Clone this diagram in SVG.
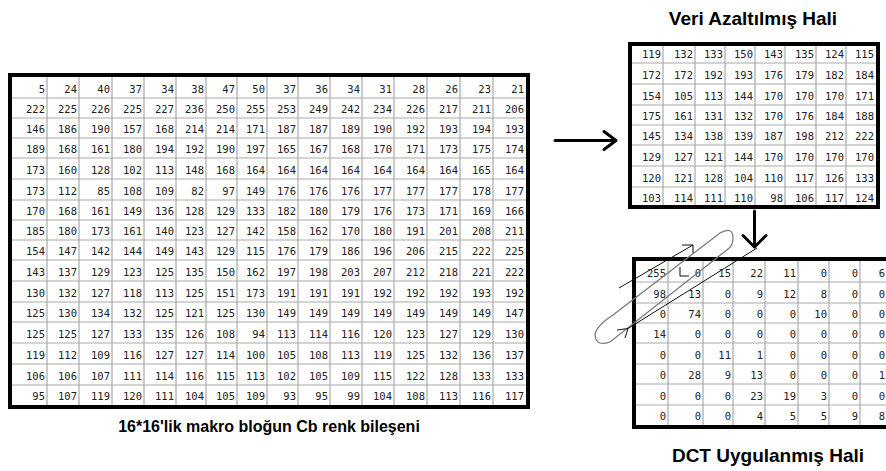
<svg xmlns="http://www.w3.org/2000/svg" width="886" height="471" viewBox="0 0 886 471">
  <style>
    .bg { fill: #ffffff; }
    .grid { fill: none; stroke: #a9a9a9; stroke-width: 1.2; }
    .frame { fill: none; stroke: #000000; stroke-width: 4; }
    .num { font-family: "DejaVu Sans Mono", "Liberation Mono", monospace; font-size: 10.5px; fill: #222222; text-anchor: end; }
    .cap { font-family: "Liberation Sans", Arial, sans-serif; font-weight: bold; fill: #000000; text-anchor: middle; }
    .arrow { fill: none; stroke: #000000; stroke-width: 3; stroke-linecap: round; stroke-linejoin: round; }
    .scan { fill: none; stroke: #111111; stroke-width: 1; }
    .loop { fill: none; stroke: #7a7a7a; stroke-width: 1.3; }
  </style>

  <rect class="bg" x="0" y="0" width="886" height="471"/>

  <!-- 16x16 Cb block -->
  <g id="block16">
    <path class="grid" d="M47 75V407M79 75V407M112 75V407M144 75V407M176 75V407M206 75V407M237 75V407M267 75V407M298 75V407M330 75V407M362 75V407M394 75V407M427 75V407M460 75V407M493 75V407M10 98H528M10 118H528M10 138H528M10 158H528M10 179H528M10 200H528M10 220H528M10 240H528M10 260H528M10 281H528M10 302H528M10 322H528M10 343H528M10 364H528M10 385H528"/>
    <rect class="frame" x="10" y="75" width="518" height="332"/>
    <g class="num">
      <text y="93"><tspan x="45">5</tspan><tspan x="77">24</tspan><tspan x="110">40</tspan><tspan x="142">37</tspan><tspan x="174">34</tspan><tspan x="204">38</tspan><tspan x="235">47</tspan><tspan x="265">50</tspan><tspan x="296">37</tspan><tspan x="328">36</tspan><tspan x="360">34</tspan><tspan x="392">31</tspan><tspan x="425">28</tspan><tspan x="458">26</tspan><tspan x="491">23</tspan><tspan x="524">21</tspan></text>
      <text y="113"><tspan x="45">222</tspan><tspan x="77">225</tspan><tspan x="110">226</tspan><tspan x="142">225</tspan><tspan x="174">227</tspan><tspan x="204">236</tspan><tspan x="235">250</tspan><tspan x="265">255</tspan><tspan x="296">253</tspan><tspan x="328">249</tspan><tspan x="360">242</tspan><tspan x="392">234</tspan><tspan x="425">226</tspan><tspan x="458">217</tspan><tspan x="491">211</tspan><tspan x="524">206</tspan></text>
      <text y="133"><tspan x="45">146</tspan><tspan x="77">186</tspan><tspan x="110">190</tspan><tspan x="142">157</tspan><tspan x="174">168</tspan><tspan x="204">214</tspan><tspan x="235">214</tspan><tspan x="265">171</tspan><tspan x="296">187</tspan><tspan x="328">187</tspan><tspan x="360">189</tspan><tspan x="392">190</tspan><tspan x="425">192</tspan><tspan x="458">193</tspan><tspan x="491">194</tspan><tspan x="524">193</tspan></text>
      <text y="153"><tspan x="45">189</tspan><tspan x="77">168</tspan><tspan x="110">161</tspan><tspan x="142">180</tspan><tspan x="174">194</tspan><tspan x="204">192</tspan><tspan x="235">190</tspan><tspan x="265">197</tspan><tspan x="296">165</tspan><tspan x="328">167</tspan><tspan x="360">168</tspan><tspan x="392">170</tspan><tspan x="425">171</tspan><tspan x="458">173</tspan><tspan x="491">175</tspan><tspan x="524">174</tspan></text>
      <text y="174"><tspan x="45">173</tspan><tspan x="77">160</tspan><tspan x="110">128</tspan><tspan x="142">102</tspan><tspan x="174">113</tspan><tspan x="204">148</tspan><tspan x="235">168</tspan><tspan x="265">164</tspan><tspan x="296">164</tspan><tspan x="328">164</tspan><tspan x="360">164</tspan><tspan x="392">164</tspan><tspan x="425">164</tspan><tspan x="458">164</tspan><tspan x="491">165</tspan><tspan x="524">164</tspan></text>
      <text y="195"><tspan x="45">173</tspan><tspan x="77">112</tspan><tspan x="110">85</tspan><tspan x="142">108</tspan><tspan x="174">109</tspan><tspan x="204">82</tspan><tspan x="235">97</tspan><tspan x="265">149</tspan><tspan x="296">176</tspan><tspan x="328">176</tspan><tspan x="360">176</tspan><tspan x="392">177</tspan><tspan x="425">177</tspan><tspan x="458">177</tspan><tspan x="491">178</tspan><tspan x="524">177</tspan></text>
      <text y="215"><tspan x="45">170</tspan><tspan x="77">168</tspan><tspan x="110">161</tspan><tspan x="142">149</tspan><tspan x="174">136</tspan><tspan x="204">128</tspan><tspan x="235">129</tspan><tspan x="265">133</tspan><tspan x="296">182</tspan><tspan x="328">180</tspan><tspan x="360">179</tspan><tspan x="392">176</tspan><tspan x="425">173</tspan><tspan x="458">171</tspan><tspan x="491">169</tspan><tspan x="524">166</tspan></text>
      <text y="235"><tspan x="45">185</tspan><tspan x="77">180</tspan><tspan x="110">173</tspan><tspan x="142">161</tspan><tspan x="174">140</tspan><tspan x="204">123</tspan><tspan x="235">127</tspan><tspan x="265">142</tspan><tspan x="296">158</tspan><tspan x="328">162</tspan><tspan x="360">170</tspan><tspan x="392">180</tspan><tspan x="425">191</tspan><tspan x="458">201</tspan><tspan x="491">208</tspan><tspan x="524">211</tspan></text>
      <text y="255"><tspan x="45">154</tspan><tspan x="77">147</tspan><tspan x="110">142</tspan><tspan x="142">144</tspan><tspan x="174">149</tspan><tspan x="204">143</tspan><tspan x="235">129</tspan><tspan x="265">115</tspan><tspan x="296">176</tspan><tspan x="328">179</tspan><tspan x="360">186</tspan><tspan x="392">196</tspan><tspan x="425">206</tspan><tspan x="458">215</tspan><tspan x="491">222</tspan><tspan x="524">225</tspan></text>
      <text y="276"><tspan x="45">143</tspan><tspan x="77">137</tspan><tspan x="110">129</tspan><tspan x="142">123</tspan><tspan x="174">125</tspan><tspan x="204">135</tspan><tspan x="235">150</tspan><tspan x="265">162</tspan><tspan x="296">197</tspan><tspan x="328">198</tspan><tspan x="360">203</tspan><tspan x="392">207</tspan><tspan x="425">212</tspan><tspan x="458">218</tspan><tspan x="491">221</tspan><tspan x="524">222</tspan></text>
      <text y="297"><tspan x="45">130</tspan><tspan x="77">132</tspan><tspan x="110">127</tspan><tspan x="142">118</tspan><tspan x="174">113</tspan><tspan x="204">125</tspan><tspan x="235">151</tspan><tspan x="265">173</tspan><tspan x="296">191</tspan><tspan x="328">191</tspan><tspan x="360">191</tspan><tspan x="392">192</tspan><tspan x="425">192</tspan><tspan x="458">192</tspan><tspan x="491">193</tspan><tspan x="524">192</tspan></text>
      <text y="317"><tspan x="45">125</tspan><tspan x="77">130</tspan><tspan x="110">134</tspan><tspan x="142">132</tspan><tspan x="174">125</tspan><tspan x="204">121</tspan><tspan x="235">125</tspan><tspan x="265">130</tspan><tspan x="296">149</tspan><tspan x="328">149</tspan><tspan x="360">149</tspan><tspan x="392">149</tspan><tspan x="425">149</tspan><tspan x="458">149</tspan><tspan x="491">149</tspan><tspan x="524">147</tspan></text>
      <text y="338"><tspan x="45">125</tspan><tspan x="77">125</tspan><tspan x="110">127</tspan><tspan x="142">133</tspan><tspan x="174">135</tspan><tspan x="204">126</tspan><tspan x="235">108</tspan><tspan x="265">94</tspan><tspan x="296">113</tspan><tspan x="328">114</tspan><tspan x="360">116</tspan><tspan x="392">120</tspan><tspan x="425">123</tspan><tspan x="458">127</tspan><tspan x="491">129</tspan><tspan x="524">130</tspan></text>
      <text y="359"><tspan x="45">119</tspan><tspan x="77">112</tspan><tspan x="110">109</tspan><tspan x="142">116</tspan><tspan x="174">127</tspan><tspan x="204">127</tspan><tspan x="235">114</tspan><tspan x="265">100</tspan><tspan x="296">105</tspan><tspan x="328">108</tspan><tspan x="360">113</tspan><tspan x="392">119</tspan><tspan x="425">125</tspan><tspan x="458">132</tspan><tspan x="491">136</tspan><tspan x="524">137</tspan></text>
      <text y="380"><tspan x="45">106</tspan><tspan x="77">106</tspan><tspan x="110">107</tspan><tspan x="142">111</tspan><tspan x="174">114</tspan><tspan x="204">116</tspan><tspan x="235">115</tspan><tspan x="265">113</tspan><tspan x="296">102</tspan><tspan x="328">105</tspan><tspan x="360">109</tspan><tspan x="392">115</tspan><tspan x="425">122</tspan><tspan x="458">128</tspan><tspan x="491">133</tspan><tspan x="524">133</tspan></text>
      <text y="400"><tspan x="45">95</tspan><tspan x="77">107</tspan><tspan x="110">119</tspan><tspan x="142">120</tspan><tspan x="174">111</tspan><tspan x="204">104</tspan><tspan x="235">105</tspan><tspan x="265">109</tspan><tspan x="296">93</tspan><tspan x="328">95</tspan><tspan x="360">99</tspan><tspan x="392">104</tspan><tspan x="425">108</tspan><tspan x="458">113</tspan><tspan x="491">116</tspan><tspan x="524">117</tspan></text>
    </g>
    <text class="cap" x="269" y="432" font-size="16">16*16'lik makro bloğun Cb renk bileşeni</text>
  </g>

  <!-- reduced 8x8 block -->
  <g id="reduced">
    <text class="cap" x="753" y="25" font-size="19">Veri Azaltılmış Hali</text>
    <path class="grid" d="M663 44V207M695 44V207M725 44V207M755 44V207M785 44V207M816 44V207M846 44V207M630 63H878M630 84H878M630 105H878M630 125H878M630 145H878M630 166H878M630 187H878"/>
    <rect class="frame" x="630" y="44" width="248" height="163"/>
    <g class="num">
      <text y="58"><tspan x="661">119</tspan><tspan x="693">132</tspan><tspan x="723">133</tspan><tspan x="753">150</tspan><tspan x="783">143</tspan><tspan x="814">135</tspan><tspan x="844">124</tspan><tspan x="874">115</tspan></text>
      <text y="79"><tspan x="661">172</tspan><tspan x="693">172</tspan><tspan x="723">192</tspan><tspan x="753">193</tspan><tspan x="783">176</tspan><tspan x="814">179</tspan><tspan x="844">182</tspan><tspan x="874">184</tspan></text>
      <text y="100"><tspan x="661">154</tspan><tspan x="693">105</tspan><tspan x="723">113</tspan><tspan x="753">144</tspan><tspan x="783">170</tspan><tspan x="814">170</tspan><tspan x="844">170</tspan><tspan x="874">171</tspan></text>
      <text y="120"><tspan x="661">175</tspan><tspan x="693">161</tspan><tspan x="723">131</tspan><tspan x="753">132</tspan><tspan x="783">170</tspan><tspan x="814">176</tspan><tspan x="844">184</tspan><tspan x="874">188</tspan></text>
      <text y="140"><tspan x="661">145</tspan><tspan x="693">134</tspan><tspan x="723">138</tspan><tspan x="753">139</tspan><tspan x="783">187</tspan><tspan x="814">198</tspan><tspan x="844">212</tspan><tspan x="874">222</tspan></text>
      <text y="161"><tspan x="661">129</tspan><tspan x="693">127</tspan><tspan x="723">121</tspan><tspan x="753">144</tspan><tspan x="783">170</tspan><tspan x="814">170</tspan><tspan x="844">170</tspan><tspan x="874">170</tspan></text>
      <text y="182"><tspan x="661">120</tspan><tspan x="693">121</tspan><tspan x="723">128</tspan><tspan x="753">104</tspan><tspan x="783">110</tspan><tspan x="814">117</tspan><tspan x="844">126</tspan><tspan x="874">133</tspan></text>
      <text y="202"><tspan x="661">103</tspan><tspan x="693">114</tspan><tspan x="723">111</tspan><tspan x="753">110</tspan><tspan x="783">98</tspan><tspan x="814">106</tspan><tspan x="844">117</tspan><tspan x="874">124</tspan></text>
    </g>
  </g>

  <!-- DCT coefficients (right edge runs past the canvas) -->
  <g id="dct">
    <path class="grid" d="M668 259V427M703 259V427M733 259V427M765 259V427M798 259V427M829 259V427M860 259V427M634 282H891M634 303H891M634 323H891M634 343H891M634 364H891M634 384H891M634 405H891"/>
    <rect class="frame" x="634" y="259" width="257" height="168"/>
    <g class="num">
      <text y="277"><tspan x="666">255</tspan><tspan x="701">0</tspan><tspan x="731">15</tspan><tspan x="763">22</tspan><tspan x="796">11</tspan><tspan x="827">0</tspan><tspan x="858">0</tspan><tspan x="885">6</tspan></text>
      <text y="298"><tspan x="666">98</tspan><tspan x="701">13</tspan><tspan x="731">0</tspan><tspan x="763">9</tspan><tspan x="796">12</tspan><tspan x="827">8</tspan><tspan x="858">0</tspan><tspan x="885">0</tspan></text>
      <text y="318"><tspan x="666">0</tspan><tspan x="701">74</tspan><tspan x="731">0</tspan><tspan x="763">0</tspan><tspan x="796">0</tspan><tspan x="827">10</tspan><tspan x="858">0</tspan><tspan x="885">0</tspan></text>
      <text y="338"><tspan x="666">14</tspan><tspan x="701">0</tspan><tspan x="731">0</tspan><tspan x="763">0</tspan><tspan x="796">0</tspan><tspan x="827">0</tspan><tspan x="858">0</tspan><tspan x="885">0</tspan></text>
      <text y="359"><tspan x="666">0</tspan><tspan x="701">0</tspan><tspan x="731">11</tspan><tspan x="763">1</tspan><tspan x="796">0</tspan><tspan x="827">0</tspan><tspan x="858">0</tspan><tspan x="885">0</tspan></text>
      <text y="379"><tspan x="666">0</tspan><tspan x="701">28</tspan><tspan x="731">9</tspan><tspan x="763">13</tspan><tspan x="796">0</tspan><tspan x="827">0</tspan><tspan x="858">0</tspan><tspan x="885">1</tspan></text>
      <text y="400"><tspan x="666">0</tspan><tspan x="701">0</tspan><tspan x="731">0</tspan><tspan x="763">23</tspan><tspan x="796">19</tspan><tspan x="827">3</tspan><tspan x="858">0</tspan><tspan x="885">0</tspan></text>
      <text y="420"><tspan x="666">0</tspan><tspan x="701">0</tspan><tspan x="731">0</tspan><tspan x="763">4</tspan><tspan x="796">5</tspan><tspan x="827">5</tspan><tspan x="858">9</tspan><tspan x="885">8</tspan></text>
    </g>
    <text class="cap" x="768" y="462" font-size="19">DCT Uygulanmış Hali</text>
  </g>

  <!-- connectors -->
  <g id="connectors">
    <path class="arrow" d="M555 140.5H616M604 131.5L616 140.5L604 149.5"/>
    <path class="arrow" d="M754.5 211V247M743 235.5L754.5 247L766 235.5"/>
  </g>

  <!-- zig-zag scan sketch over the DCT block -->
  <g id="zigzag">
    <path class="loop" d="M613 315L720 233Q733 226 733 238Q733 246 728 249L610 342Q596 347 595 335Q596 326 613 315Z"/>
    <path class="scan" d="M619 288L693 245M682 245H693V253"/>
    <path class="scan" d="M757 248L628 328.5M617 330L628 328.5L625 338"/>
    <path class="scan" d="M680 267V276H689" stroke-width="1.6"/>
  </g>
</svg>
